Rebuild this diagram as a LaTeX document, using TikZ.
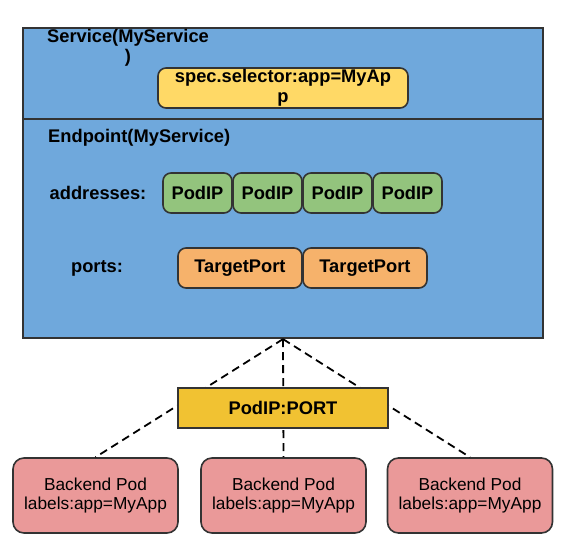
\documentclass[tikz,border=0pt]{standalone}
\usepackage{fontspec}
\setmainfont{Liberation Sans}
\definecolor{bluefill}{HTML}{6FA8DC}
\definecolor{specfill}{HTML}{FFD966}
\definecolor{ipfill}{HTML}{93C47D}
\definecolor{portfill}{HTML}{F6B26B}
\definecolor{epfill}{HTML}{F1C232}
\definecolor{podfill}{HTML}{EA9999}
\definecolor{edge}{HTML}{333333}
\begin{document}
\begin{tikzpicture}[x=1pt,y=-1pt,
  lbl/.style={font=\fontsize{18.3}{20}\selectfont\bfseries, inner sep=0pt, align=center},
  rbox/.style={draw=edge, line width=1.6pt, rounded corners=8pt, inner sep=0pt, align=center,
    font=\fontsize{18.3}{20}\selectfont\bfseries},
  ipbox/.style={rbox, fill=ipfill, minimum width=69pt, minimum height=40pt},
  portbox/.style={rbox, fill=portfill, minimum width=124pt, minimum height=40pt},
  podbox/.style={rbox, fill=podfill, rounded corners=11pt, minimum width=165pt, minimum height=75pt,
    font=\fontsize{17.3}{19.5}\selectfont},
  link/.style={draw=black, line width=1.8pt, dash pattern=on 8pt off 5pt}]
\useasboundingbox (0,0) rectangle (568,551);
% outer service/endpoint block
\node[draw=edge, line width=2.2pt, fill=bluefill, minimum width=520pt, minimum height=310pt,
  inner sep=0pt] (svc) at (283,183) {};
\coordinate (divl) at (23,118.5);
\coordinate (divr) at (543,118.5);
\draw[draw=edge, line width=2pt] (divl) -- (divr);
\node[lbl] (svclbl) at (128,48) {Service(MyService\\)};
\node[rbox, fill=specfill, minimum width=250pt, minimum height=40pt] (spec) at (283,88)
  {spec.selector:app=MyAp\\p};
\node[lbl, anchor=west] (eplbl) at (48,138) {Endpoint(MyService)};
\node[lbl] (addr) at (98,193) {addresses:};
\node[ipbox] (ip1) at (197.5,193) {PodIP};
\node[ipbox] (ip2) at (267.5,193) {PodIP};
\node[ipbox] (ip3) at (337.5,193) {PodIP};
\node[ipbox] (ip4) at (407.5,193) {PodIP};
\node[lbl] (ports) at (97,268) {ports:};
\node[portbox] (tp1) at (240,268) {TargetPort};
\node[portbox] (tp2) at (365,268) {TargetPort};
% pods
\node[podbox] (pod1) at (95.5,495.5) {Backend Pod\\labels:app=MyApp};
\node[podbox] (pod2) at (283.5,495.5) {Backend Pod\\labels:app=MyApp};
\node[podbox] (pod3) at (470,495.5) {Backend Pod\\labels:app=MyApp};
% links
\draw[link] (svc.south) -- (pod1.north);
\draw[link] (svc.south) -- (pod2.north);
\draw[link] (svc.south) -- (pod3.north);
% endpoint box
\node[draw=edge, line width=1.6pt, fill=epfill, minimum width=210pt, minimum height=40pt, inner sep=0pt,
  font=\fontsize{18.3}{20}\selectfont\bfseries] (ep) at (283,408) {PodIP:PORT};
\end{tikzpicture}
\end{document}
